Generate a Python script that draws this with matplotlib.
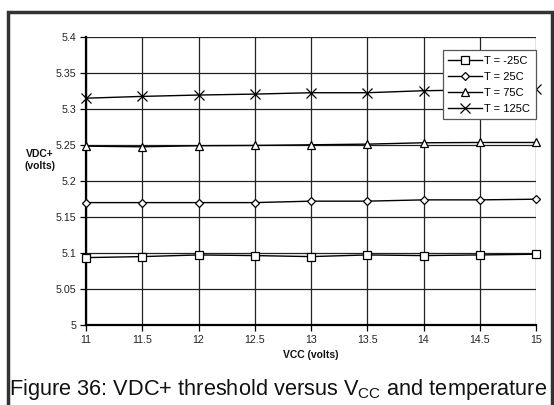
import matplotlib
matplotlib.use("Agg")
import matplotlib.pyplot as plt
from matplotlib.patches import Rectangle

plt.rcParams['font.family'] = ['Liberation Sans', 'DejaVu Sans']
plt.rcParams['mathtext.fontset'] = 'custom'
plt.rcParams['mathtext.rm'] = 'Liberation Sans'

vcc = [11, 11.5, 12, 12.5, 13, 13.5, 14, 14.5, 15]
t_m25 = [5.0936, 5.0950, 5.0973, 5.0964, 5.0950, 5.0973, 5.0964, 5.0973, 5.0983]
t_25 = [5.1700, 5.1700, 5.1700, 5.1700, 5.1720, 5.1720, 5.1738, 5.1738, 5.1747]
t_75 = [5.2484, 5.2475, 5.2490, 5.2494, 5.2503, 5.2512, 5.2531, 5.2535, 5.2535]
t_125 = [5.3150, 5.3175, 5.3194, 5.3207, 5.3226, 5.3226, 5.3254, 5.3265, 5.3277]
labels = ['T = -25C', 'T = 25C', 'T = 75C', 'T = 125C']
xticks = [11, 11.5, 12, 12.5, 13, 13.5, 14, 14.5, 15]
yticks = [5, 5.05, 5.1, 5.15, 5.2, 5.25, 5.3, 5.35, 5.4]

W, H = 554, 405
fig = plt.figure(figsize=(W / 100, H / 100), dpi=100)
L, R, T, B = 86, 536, 37, 325
ax = fig.add_axes([L / W, 1 - B / H, (R - L) / W, (B - T) / H])

ax.set_xlim(11, 15)
ax.set_ylim(5.0, 5.4)
ax.set_xticks(xticks)
ax.set_xticklabels([f"{v:g}" for v in xticks])
ax.set_yticks(yticks)
ax.set_yticklabels([f"{v:g}" for v in yticks])
ax.grid(True, color='#222222', linewidth=0.9)
ax.set_axisbelow(True)
for s in ['top', 'right']:
    ax.spines[s].set_visible(False)
for s in ['left', 'bottom']:
    ax.spines[s].set_linewidth(1.6)
    ax.spines[s].set_color('black')
ax.tick_params(axis='both', labelsize=7.7, length=4, width=0.9, direction='out', pad=3,
               colors='black', labelcolor='#222222')

series = [t_m25, t_25, t_75, t_125]
markers = ['s', 'D', '^', 'x']
msizes = [6, 4, 6, 6.5]
for ys, m, ms, lab in zip(series, markers, msizes, labels):
    ax.plot(vcc, ys, color='black', linewidth=1.0, marker=m, markersize=ms,
            markerfacecolor='white', markeredgecolor='black', markeredgewidth=0.9,
            label=lab, clip_on=False, zorder=3)

leg = ax.legend(loc='upper left', bbox_to_anchor=(0.793, 0.955), fontsize=8,
                frameon=True, fancybox=False, edgecolor='#555555', framealpha=1,
                handlelength=3.0, handletextpad=0.2, borderpad=0.5, labelspacing=0.55,
                borderaxespad=0)
leg.get_frame().set_linewidth(0.9)
leg.set_zorder(5)

fig.text(40 / W, 1 - 160 / H, 'VDC+\n(volts)', ha='center', va='center',
         fontsize=7.5, fontweight='bold', linespacing=1.3, color='#111111')
fig.text((L + R) / 2 / W, 1 - 355 / H, 'VCC (volts)', ha='center', va='center',
         fontsize=7.5, fontweight='bold', color='#111111')
fig.text(9 / W, 1 - 389 / H, r'Figure 36: VDC+ threshold versus V$_{\mathrm{CC}}$ and temperature',
         ha='left', va='center', fontsize=15.7, color='#111111')

fig.patches.append(Rectangle((8 / W, -0.05), (552 - 8) / W, 1.05 - 12 / H,
                             transform=fig.transFigure, fill=False,
                             edgecolor='#333333', linewidth=2.5))

fig.savefig('out.png', dpi=100)
